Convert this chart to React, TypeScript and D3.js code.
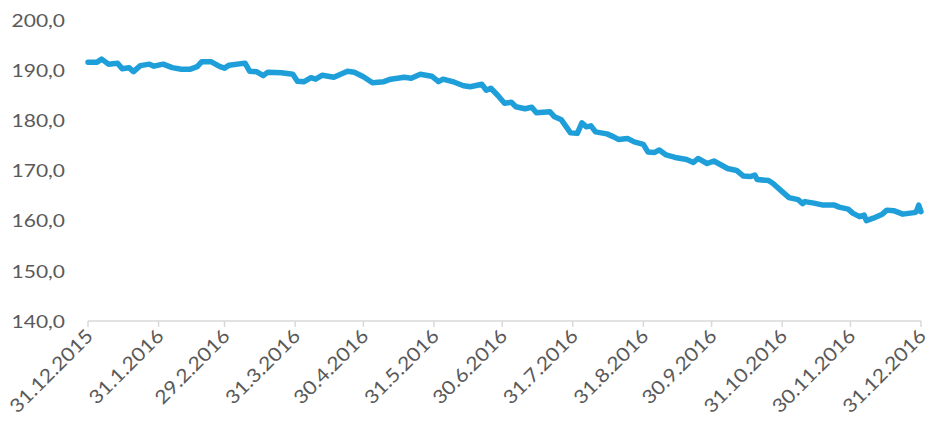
import React from "react";
import * as d3 from "d3";

const dates: string[] = [
  "2015-12-31","2016-01-04","2016-01-06","2016-01-09","2016-01-13","2016-01-15","2016-01-18","2016-01-20","2016-01-23","2016-01-27","2016-01-29",
  "2016-02-02","2016-02-06","2016-02-10","2016-02-14","2016-02-17","2016-02-19","2016-02-23","2016-02-27","2016-02-29",
  "2016-03-02","2016-03-09","2016-03-11","2016-03-14","2016-03-17","2016-03-19","2016-03-25","2016-03-30",
  "2016-04-01","2016-04-04","2016-04-07","2016-04-09","2016-04-12","2016-04-17","2016-04-23","2016-04-26","2016-04-30",
  "2016-05-04","2016-05-09","2016-05-12","2016-05-18","2016-05-21","2016-05-25","2016-05-30",
  "2016-06-02","2016-06-04","2016-06-09","2016-06-13","2016-06-16","2016-06-21","2016-06-23","2016-06-25","2016-06-28",
  "2016-07-01","2016-07-04","2016-07-06","2016-07-10","2016-07-13","2016-07-15","2016-07-21","2016-07-23","2016-07-26","2016-07-28","2016-07-30",
  "2016-08-02","2016-08-04","2016-08-06","2016-08-08","2016-08-10","2016-08-15","2016-08-18","2016-08-20","2016-08-24","2016-08-27","2016-08-31",
  "2016-09-02","2016-09-05","2016-09-07","2016-09-10","2016-09-14","2016-09-19","2016-09-22","2016-09-24","2016-09-28",
  "2016-10-01","2016-10-03","2016-10-07","2016-10-11","2016-10-14","2016-10-17","2016-10-19","2016-10-20","2016-10-25","2016-10-27","2016-10-31",
  "2016-11-03","2016-11-07","2016-11-09","2016-11-10","2016-11-14","2016-11-18","2016-11-23","2016-11-25","2016-11-29",
  "2016-12-01","2016-12-04","2016-12-06","2016-12-07","2016-12-10","2016-12-14","2016-12-16","2016-12-19","2016-12-23","2016-12-28","2016-12-29","2016-12-30","2016-12-31"
];

const values: number[] = [
  191.6,191.6,192.2,191.2,191.4,190.3,190.5,189.7,190.9,191.2,190.8,
  191.2,190.5,190.2,190.2,190.7,191.7,191.7,190.7,190.4,
  191.0,191.4,189.8,189.7,188.9,189.6,189.5,189.2,
  187.8,187.7,188.5,188.2,189.0,188.6,189.8,189.6,188.7,
  187.5,187.7,188.2,188.6,188.4,189.2,188.8,
  187.7,188.2,187.6,186.9,186.7,187.2,186.0,186.4,185.0,
  183.4,183.6,182.7,182.3,182.6,181.5,181.7,180.7,180.1,178.8,177.5,
  177.4,179.5,178.7,178.9,177.7,177.3,176.7,176.2,176.4,175.7,175.2,
  173.7,173.6,174.1,173.1,172.6,172.2,171.6,172.4,171.4,
  171.9,171.4,170.4,170.0,168.9,168.8,169.1,168.2,168.0,167.4,165.8,
  164.6,164.2,163.4,163.8,163.5,163.1,163.1,162.7,162.3,
  161.5,160.8,161.1,160.0,160.5,161.3,162.1,162.0,161.3,161.6,161.8,163.1,161.8
];

const yTicks: number[] = [140, 150, 160, 170, 180, 190, 200];
const xTickDates: string[] = [
  "2015-12-31","2016-01-31","2016-02-29","2016-03-31","2016-04-30","2016-05-31","2016-06-30",
  "2016-07-31","2016-08-31","2016-09-30","2016-10-31","2016-11-30","2016-12-31"
];

const parse = d3.timeParse("%Y-%m-%d");
const fmtX = (d: Date) => `${d.getDate()}.${d.getMonth() + 1}.${d.getFullYear()}`;
const fmtY = (v: number) => v.toFixed(1).replace(".", ",");

export default function App() {
  const W = 930, H = 427;
  const x = d3.scaleTime()
    .domain([parse("2015-12-31")!, parse("2016-12-31")!])
    .range([88, 921]);
  const y = d3.scaleLinear().domain([140, 200]).range([321, 20]);
  const data = dates.map((d, i) => ({ date: parse(d)!, v: values[i] }));
  const line = d3.line<{ date: Date; v: number }>()
    .x(d => x(d.date))
    .y(d => y(d.v))
    .curve(d3.curveLinear);
  const font = "Lato, 'Open Sans', sans-serif";
  const textColor = "#595959";
  return (
    <svg width={W} height={H} style={{ position: "absolute", left: 0, top: 0 }}>
      <rect width={W} height={H} fill="#fff" />
      {yTicks.map(t => (
        <text key={t} transform={`translate(65,${y(t)}) scale(1.2,1)`} textAnchor="end"
          dominantBaseline="central" fontFamily={font} fontSize={17.5} fill={textColor}>
          {fmtY(t)}
        </text>
      ))}
      <line x1={88} x2={921} y1={y(140)} y2={y(140)} stroke="#d9d9d9" strokeWidth={1.5} />
      {xTickDates.map(s => {
        const d = parse(s)!;
        const px = x(d);
        return (
          <g key={s}>
            <line x1={px} x2={px} y1={y(140)} y2={y(140) + 6} stroke="#d9d9d9" strokeWidth={1.5} />
            <text transform={`translate(${px + 1},${y(140) + 11}) rotate(-45) scale(1.12,1)`} textAnchor="end"
              dominantBaseline="central" fontFamily={font} fontSize={19} fill={textColor}>
              {fmtX(d)}
            </text>
          </g>
        );
      })}
      <path d={line(data) || ""} fill="none" stroke="#1f9fd9" strokeWidth={5.5}
        strokeLinejoin="round" strokeLinecap="round" />
    </svg>
  );
}
